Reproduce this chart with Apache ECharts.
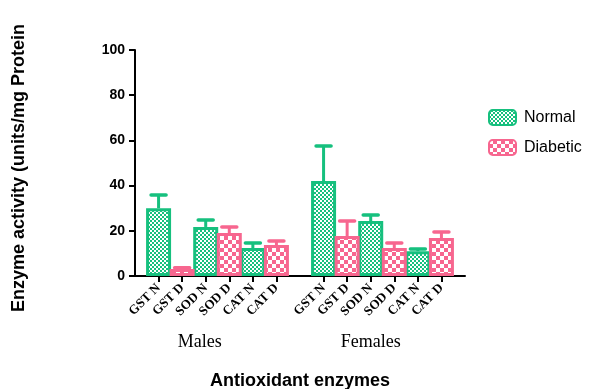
<!DOCTYPE html>
<html><head><meta charset="utf-8">
<script src="https://cdn.jsdelivr.net/npm/echarts@6/dist/echarts.min.js"></script>
<style>html,body{margin:0;padding:0;background:#fff}#c{width:590px;height:389px}</style>
</head><body><div id="c"></div>
<script>
const enzymes = ['GST', 'SOD', 'CAT'];
const groups = ['Males', 'Females'];
const seriesNames = ['Normal', 'Diabetic'];
const normalMale = [30, 21.7, 12.4];
const normalMaleErr = [5.8, 3.1, 2.2];
const diabeticMale = [3.1, 19, 13.7];
const diabeticMaleErr = [0.5, 2.7, 1.8];
const normalFemale = [42, 24.3, 11];
const normalFemaleErr = [15.5, 2.7, 1];
const diabeticFemale = [17.7, 12.4, 16.8];
const diabeticFemaleErr = [6.6, 2.2, 2.7];
const yTicks = [0, 20, 40, 60, 80, 100];

const GREEN = '#16c07e', PINK = '#f7668f';

function pattern(color, cell) {
  const c = document.createElement('canvas');
  c.width = cell * 2; c.height = cell * 2;
  const g = c.getContext('2d');
  g.fillStyle = color; g.fillRect(0, 0, cell * 2, cell * 2);
  g.fillStyle = '#ffffff';
  g.fillRect(0, 0, cell, cell);
  g.fillRect(cell, cell, cell, cell);
  return c;
}

const categories = [''];
const normalData = ['-'], diabeticData = ['-'];
const errData = [];
function addGroup(nm, nmE, dm, dmE) {
  enzymes.forEach((e, i) => {
    categories.push(e + ' N');
    normalData.push(nm[i]); diabeticData.push('-');
    errData.push([categories.length - 1, nm[i], nm[i] + nmE[i], 0]);
    categories.push(e + ' D');
    normalData.push('-'); diabeticData.push(dm[i]);
    errData.push([categories.length - 1, dm[i], dm[i] + dmE[i], 1]);
  });
}
addGroup(normalMale, normalMaleErr, diabeticMale, diabeticMaleErr);
categories.push(''); normalData.push('-'); diabeticData.push('-');
addGroup(normalFemale, normalFemaleErr, diabeticFemale, diabeticFemaleErr);
categories.push(''); normalData.push('-'); diabeticData.push('-');

const chart = echarts.init(document.getElementById('c'), null, {renderer: 'canvas'});
const greenPat = {image: pattern(GREEN, 2), repeat: 'repeat'};
const pinkPat = {image: pattern(PINK, 4), repeat: 'repeat'};

chart.setOption({
  animation: false,
  backgroundColor: '#fff',
  grid: {left: 135, top: 50, width: 330, height: 226, outerBoundsMode: 'none', containLabel: false},
  legend: {
    orient: 'vertical', left: 483, top: 104, itemGap: 13,
    itemWidth: 27, itemHeight: 15,
    textStyle: {fontFamily: 'Liberation Sans, Arial', fontSize: 16, color: '#000', padding: [0, 0, 0, 3]},
    data: seriesNames
  },
  xAxis: {
    type: 'category', data: categories, boundaryGap: false,
    name: 'Antioxidant enzymes', nameLocation: 'middle', nameGap: 96,
    nameTextStyle: {fontFamily: 'Liberation Sans, Arial', fontWeight: 'bold', fontSize: 18, color: '#000'},
    axisLine: {lineStyle: {color: '#000', width: 2}},
    axisTick: {length: 6, lineStyle: {color: '#000', width: 2}, interval: (i, v) => v !== ''},
    axisLabel: {rotate: 45, interval: 0, fontFamily: 'Liberation Serif, Times New Roman', fontWeight: 'bold', fontSize: 13, color: '#000', margin: 10}
  },
  yAxis: {
    type: 'value', min: 0, max: 100, interval: 20,
    name: 'Enzyme activity (units/mg Protein', nameLocation: 'middle', nameGap: 107,
    nameTextStyle: {fontFamily: 'Liberation Sans, Arial', fontWeight: 'bold', fontSize: 18, color: '#000', padding: [0, 0, 0, -10]},
    axisLine: {show: true, lineStyle: {color: '#000', width: 2}},
    axisTick: {show: true, length: 6, lineStyle: {color: '#000', width: 2}},
    splitLine: {show: false},
    axisLabel: {fontFamily: 'Liberation Sans, Arial', fontWeight: 'bold', fontSize: 14, color: '#000', margin: 10,
      formatter: v => yTicks.includes(v) ? String(v) : ''}
  },
  series: [
    {name: 'Normal', type: 'bar', data: normalData, barWidth: 25, barGap: '-100%', z: 2,
     itemStyle: {color: greenPat, borderColor: GREEN, borderWidth: 3}},
    {name: 'Diabetic', type: 'bar', data: diabeticData, barWidth: 25, barGap: '-100%', z: 2,
     itemStyle: {color: pinkPat, borderColor: PINK, borderWidth: 3}},
    {type: 'custom', data: errData, z: 1, silent: true,
     renderItem: function (params, api) {
       const x = api.value(0);
       const base = api.coord([x, api.value(1)]);
       const top = api.coord([x, api.value(2)]);
       const col = api.value(3) === 0 ? GREEN : PINK;
       const hw = 7.5;
       return {type: 'group', children: [
         {type: 'line', shape: {x1: base[0], y1: base[1], x2: top[0], y2: top[1]}, style: {stroke: col, lineWidth: 3}},
         {type: 'line', shape: {x1: top[0] - hw, y1: top[1], x2: top[0] + hw, y2: top[1]}, style: {stroke: col, lineWidth: 3.5, lineCap: 'round'}}
       ]};
     }}
  ]
});

function px(i) { return chart.convertToPixel({xAxisIndex: 0}, i); }
const mPos = px(2) + 0.75 * (px(3) - px(2));
const fPos = px(10);
chart.setOption({
  graphic: groups.map((g, i) => ({
    type: 'text',
    x: i === 0 ? mPos : fPos, y: 342,
    style: {text: g, fontFamily: 'Liberation Serif, Times New Roman', fontSize: 18, fill: '#000', align: 'center', verticalAlign: 'middle'}
  }))
});
</script></body></html>
